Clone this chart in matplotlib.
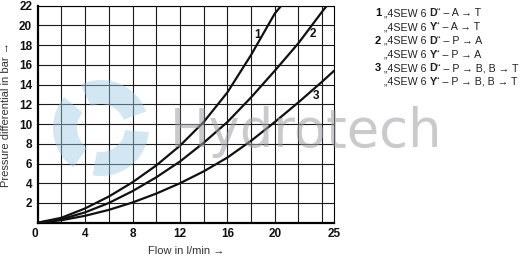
import matplotlib
matplotlib.use("Agg")
import matplotlib.pyplot as plt
from matplotlib import font_manager
from matplotlib.patches import Wedge

names = {f.name for f in font_manager.fontManager.ttflist}
FONT = "Liberation Sans Narrow" if "Liberation Sans Narrow" in names else "Liberation Sans"
plt.rcParams["font.family"] = [FONT, "DejaVu Sans"]

# ---- data ----
flow1 = [0, 2, 4, 6, 8, 10, 12, 14, 16, 18, 20, 20.55]
dp1 = [0, 0.5, 1.45, 2.65, 4.1, 5.8, 7.8, 10.2, 13.2, 17.0, 21.2, 22]
flow2 = [0, 2, 4, 6, 8, 10, 12, 14, 16, 18, 20, 22, 24, 24.4]
dp2 = [0, 0.35, 1.05, 2.0, 3.2, 4.6, 6.2, 8.1, 10.2, 12.7, 15.4, 18.2, 21.4, 22]
flow3 = [0, 2, 4, 6, 8, 10, 12, 14, 16, 18, 20, 22, 24, 25]
dp3 = [0, 0.25, 0.7, 1.3, 2.05, 2.95, 4.0, 5.2, 6.6, 8.3, 10.2, 12.2, 14.3, 15.4]
curve_labels = ["1", "2", "3"]
curve_label_pos = [(18.55, 19.0), (23.2, 19.1), (23.45, 12.8)]
x_ticks = [0, 4, 8, 12, 16, 20, 25]
y_ticks = [2, 4, 6, 8, 10, 12, 14, 16, 18, 20, 22]
legend_nums = ["1", "", "2", "", "3", ""]
legend_models = ["D", "Y", "D", "Y", "D", "Y"]
legend_paths = ["A → T", "A → T", "P → A", "P → A", "P → B, B → T", "P → B, B → T"]

W, H = 521, 258
fig = plt.figure(figsize=(W / 100, H / 100), dpi=100)
fig.patch.set_facecolor("white")
ax = fig.add_axes([37.7 / W, 1 - 222.7 / H, (334 - 37.7) / W, (222.7 - 5.7) / H])
ax.set_xlim(0, 25)
ax.set_ylim(0, 22)

# grid
for gx in range(2, 25, 2):
    ax.axvline(gx, color="#1a1a1a", lw=0.8, zorder=1)
for gy in range(2, 23, 2):
    ax.axhline(gy, color="#1a1a1a", lw=0.8, zorder=1)
for side in ["top", "right"]:
    ax.spines[side].set_linewidth(0.8)
for side in ["left", "bottom"]:
    ax.spines[side].set_linewidth(1.6)

# watermark swirl (decoration, figure pixel coordinates)
cx, cy = 101, H - 128
blue = "#9ccbe4"
for a0 in [20, 140, 260]:
    w = Wedge((cx, cy), 48, a0, a0 + 95, width=24, transform=None,
              facecolor=blue, edgecolor="none", alpha=0.45, zorder=0.5)
    fig.patches.append(w)
fig.text(170 / W, 1 - 147 / H, "Hydrotech", fontsize=38, color="#a0a0a6",
         alpha=0.55, family="DejaVu Sans", ha="left",
         va="baseline", zorder=3)

for fx, dy in [(flow1, dp1), (flow2, dp2), (flow3, dp3)]:
    ax.plot(fx, dy, color="#111111", lw=1.6, zorder=4,
            solid_joinstyle="round", solid_capstyle="round")
for lab, (lx, ly) in zip(curve_labels, curve_label_pos):
    ax.text(lx, ly, lab, fontsize=8.5, fontweight="bold", ha="center",
            va="center", color="#111111", zorder=5)

ax.set_xticks(x_ticks)
ax.set_xticklabels([str(t) for t in x_ticks])
ax.set_yticks(y_ticks)
ax.set_yticklabels([str(t) for t in y_ticks])
ax.tick_params(length=0, labelsize=8.5, pad=4)
for t in ax.get_xticklabels() + ax.get_yticklabels():
    t.set_fontweight("bold")
    t.set_color("#111111")
ax.get_xticklabels()[0].set_horizontalalignment("right")

ax.set_xlabel("Flow in l/min →", fontsize=8, color="#333333", labelpad=4)
ax.set_ylabel("Pressure differential in bar →", fontsize=8, color="#333333",
              labelpad=6)

# legend block: pieces placed next to each other in pixel coordinates
renderer = fig.canvas.get_renderer()


def draw_line(xpix, ypix, mod, path, fs, draw=True):
    arts = []
    for piece, weight in [("„4SEW 6 ", "normal"), (mod, "bold"),
                          ("“ – " + path, "normal")]:
        t = fig.text(xpix, ypix, piece, fontsize=fs, fontweight=weight,
                     ha="left", va="center", color="#222222", transform=None)
        bb = t.get_window_extent(renderer=renderer)
        xpix += bb.width
        arts.append(t)
    if not draw:
        for a in arts:
            a.remove()
    return xpix


fs = 8.0
end = draw_line(384, -100, "Y", legend_paths[-1], fs, draw=False)
if end - 384 > 135:
    fs = fs * 135 / (end - 384)

y0 = 13.5
for i, (num, mod, path) in enumerate(zip(legend_nums, legend_models, legend_paths)):
    ypix = H - (y0 + i * 13.7)
    if num:
        fig.text(378, ypix, num, fontsize=8, fontweight="bold", ha="center",
                 va="center", color="#111111", transform=None)
    draw_line(384, ypix, mod, path, fs)

fig.savefig("out.png", dpi=100, facecolor="white")
